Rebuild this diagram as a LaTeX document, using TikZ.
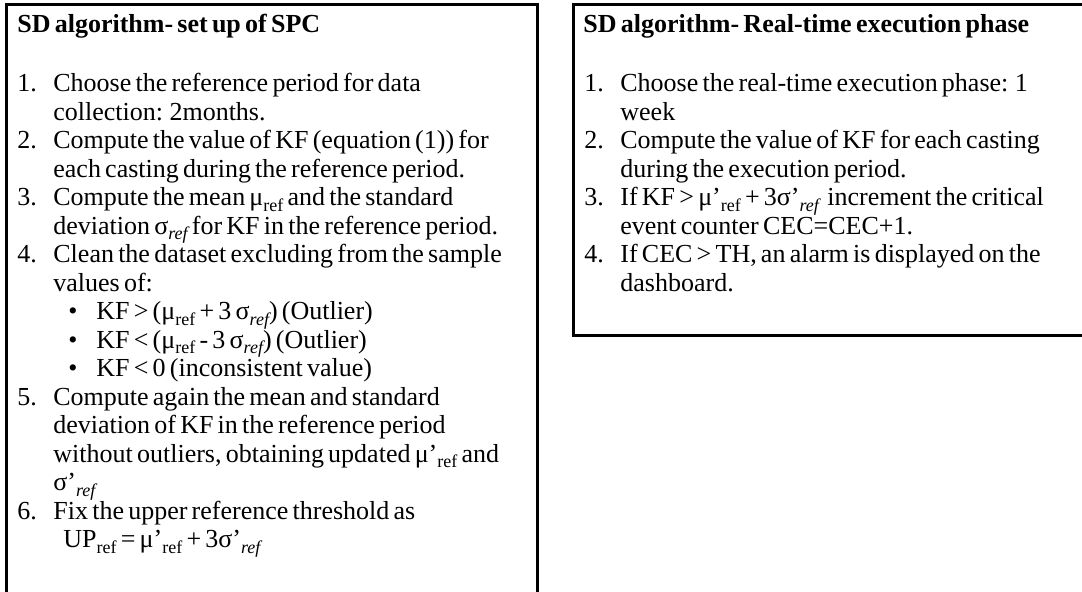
\documentclass[tikz,border=0pt]{standalone}
\usepackage{fontspec}
\setmainfont{Liberation Serif}[WordSpace=0.65]
\usepackage{tikz}

% subscripts: upright and italic
\newcommand{\rsub}[1]{\raisebox{-0.5ex}{\fontsize{9}{9}\selectfont #1}}
\newcommand{\isub}[1]{\raisebox{-0.5ex}{\fontsize{9}{9}\selectfont\itshape #1}}

\tikzset{
  panel/.style={draw, line width=1.5pt},
  txt/.style={anchor=base west, inner sep=0pt, font=\fontsize{13}{15}\selectfont},
  head/.style={txt, font=\fontsize{13}{15}\selectfont\bfseries},
}

\begin{document}
\begin{tikzpicture}[x=0.5pt, y=-0.5pt]
\useasboundingbox (0,0) rectangle (1082,591);

	% the two frames
\draw[panel] (6,640) -- (6,4) -- (537,4) -- (537,640);
\draw[panel] (1120,335) -- (573,335) -- (573,4) -- (1120,4);

	% Set up of SPC
\node[head] (setup) at (17,32) {SD algorithm- set up of SPC};
\foreach \n/\y in {1/91.5,2/148.5,3/205.5,4/262.5,5/405,6/519} {
	\node[txt] (sn\n) at (17,\y) {\n.};
}
\node[txt] (s1a) at (53,91.5) {Choose the reference period for data};
\node[txt] (s1b) at (53,120) {collection: 2months.};
\node[txt] (s2a) at (53,148.5) {Compute the value of KF (equation (1)) for};
\node[txt] (s2b) at (53,177) {each casting during the reference period.};
\node[txt] (s3a) at (53,205.5) {Compute the mean μ\rsub{ref} and the standard};
\node[txt] (s3b) at (53,234) {deviation σ\isub{ref} for KF in the reference period.};
\node[txt] (s4a) at (53,262.5) {Clean the dataset excluding from the sample};
\node[txt] (s4b) at (53,291) {values of:};
\foreach \y in {319.5,348,376.5} {
	\node[txt] at (68,\y) {•};
}
\node[txt] (s4c) at (96,319.5) {KF > (μ\rsub{ref} + 3 σ\isub{ref}) (Outlier)};
\node[txt] (s4d) at (96,348) {KF < (μ\rsub{ref} - 3 σ\isub{ref}) (Outlier)};
\node[txt] (s4e) at (96,376.5) {KF < 0 (inconsistent value)};
\node[txt] (s5a) at (53,405) {Compute again the mean and standard};
\node[txt] (s5b) at (53,433.5) {deviation of KF in the reference period};
\node[txt] (s5c) at (53,462) {without outliers, obtaining updated μ’\rsub{ref} and};
\node[txt] (s5d) at (53,490.5) {σ’\isub{ref}};
\node[txt] (s6a) at (53,519) {Fix the upper reference threshold as};
\node[txt] (s6b) at (63,547.5) {UP\rsub{ref} = μ’\rsub{ref} + 3σ’\isub{ref}};

	% Real-time execution phase
\node[head] (exec) at (583,32) {SD algorithm- Real-time execution phase};
\foreach \n/\y in {1/91.5,2/148.5,3/205.5,4/262.5} {
	\node[txt] (en\n) at (584,\y) {\n.};
}
\node[txt] (e1a) at (620,91.5) {Choose the real-time execution phase: 1};
\node[txt] (e1b) at (620,120) {week};
\node[txt] (e2a) at (620,148.5) {Compute the value of KF for each casting};
\node[txt] (e2b) at (620,177) {during the execution period.};
\node[txt] (e3a) at (620,205.5) {If KF > μ’\rsub{ref} + 3σ’\isub{ref} \ increment the critical};
\node[txt] (e3b) at (620,234) {event counter CEC=CEC+1.};
\node[txt] (e4a) at (620,262.5) {If CEC > TH, an alarm is displayed on the};
\node[txt] (e4b) at (620,291) {dashboard.};
\end{tikzpicture}
\end{document}
